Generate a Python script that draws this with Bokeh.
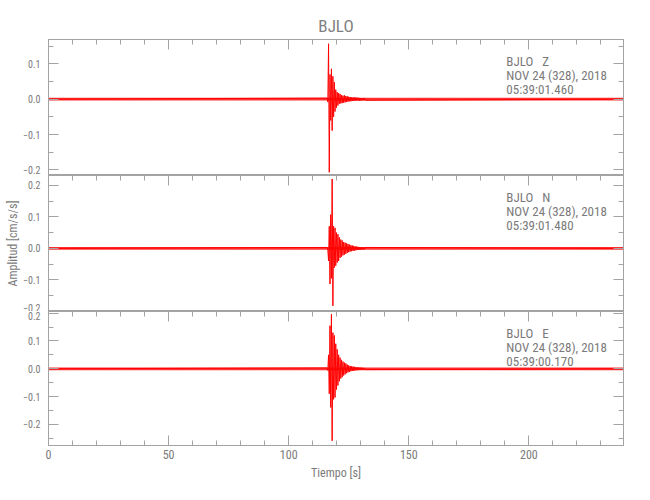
import numpy as np
from bokeh.plotting import figure
from bokeh.layouts import column
from bokeh.models import (Range1d, LinearAxis, FixedTicker, Label, CustomJSTickFormatter,
                          CustomLabelingPolicy)
from bokeh.embed import file_html
from bokeh.resources import INLINE

# ---------------- data ----------------
station = "BJLO"
components = ["Z", "N", "E"]
event_date = "NOV 24 (328), 2018"
start_times = ["05:39:01.460", "05:39:01.480", "05:39:00.170"]
y_title = "Amplitud [cm/s/s]"
x_title = "Tiempo [s]"
record_end = 239.4
x_major = [0, 50, 100, 150, 200]
x_minor = [0, 10, 20, 30, 40, 50, 60, 70, 80, 90, 100, 110, 120, 130, 140, 150,
           160, 170, 180, 190, 200, 210, 220, 230]
y_major = [-0.2, -0.1, 0.0, 0.1, 0.2]
y_minor = [-0.25, -0.2, -0.15, -0.1, -0.05, 0.0, 0.05, 0.1, 0.15, 0.2, 0.25]
y_limits = [(-0.216, 0.169), (-0.2, 0.231), (-0.276, 0.206)]
noise_halfwidth = [0.004, 0.0045, 0.005]

event_t0 = 116.0
event_dt = 0.3
amp_z = [0.003, -0.008, 0.157, -0.207, 0.070, -0.060, 0.086, -0.089, 0.065, -0.050,
         0.048, -0.035, 0.027, -0.024, 0.020, -0.018, 0.017, -0.013, 0.015, -0.012,
         0.012, -0.011, 0.010, -0.010, 0.011, -0.009, 0.009, -0.008, 0.008, -0.007,
         0.007, -0.006, 0.006, -0.006, 0.005, -0.005, 0.005, -0.005, 0.005, -0.004,
         0.005, -0.004, 0.004, -0.004, 0.004, -0.004, 0.003, -0.004, 0.003, -0.003,
         0.003, -0.003, 0.003, -0.003]
amp_n = [0.003, -0.005, -0.040, 0.070, -0.113, 0.107, -0.095, 0.220, -0.182, 0.070,
         -0.061, 0.065, -0.055, 0.050, -0.045, 0.045, -0.040, 0.035, -0.030, 0.028,
         -0.026, 0.025, -0.022, 0.020, -0.020, 0.018, -0.017, 0.016, -0.014, 0.014,
         -0.012, 0.012, -0.010, 0.010, -0.009, 0.009, -0.008, 0.008, -0.007, 0.006,
         -0.006, 0.006, -0.005, 0.005, -0.005, 0.004, -0.004, 0.004, -0.004, 0.004,
         -0.003, 0.003, -0.003, 0.003]
amp_e = [0.003, -0.006, 0.050, -0.090, 0.155, -0.139, 0.196, -0.259, 0.130, -0.110,
         0.120, -0.103, 0.090, -0.075, 0.070, -0.060, 0.050, -0.045, 0.040, -0.035,
         0.032, -0.030, 0.026, -0.024, 0.022, -0.020, 0.019, -0.016, 0.015, -0.013,
         0.012, -0.011, 0.010, -0.009, 0.009, -0.008, 0.008, -0.007, 0.007, -0.006,
         0.006, -0.005, 0.005, -0.005, 0.005, -0.004, 0.004, -0.004, 0.004, -0.004,
         0.003, -0.003, 0.003, -0.003]
amplitudes = [amp_z, amp_n, amp_e]

# ---------------- style ----------------
FONT = "'Liberation Sans Narrow', 'Roboto Condensed', Roboto, sans-serif"
AX = "#a3a3a3"
TX = "#7a7a7a"
RED = "#ff0000"
NB = "\u00a0"
W = 642
FW = 575
LEFT = 48
RIGHT = W - LEFT - FW
FRAME_H = [136, 136, 134]
TOP_B = [39, 0, 0]
BOT_B = [0, 0, 44]

x_range = Range1d(0, record_end)
minus_fmt = "return tick.toFixed(1).replace('-', '\\u2212');"
hide_code = "for (const i of Array.from(indices)) { indices.unset(i) }\nreturn indices"


def style_axis(ax, labels):
    ax.axis_line_color = AX
    ax.major_tick_line_color = AX
    ax.minor_tick_line_color = AX
    ax.major_tick_in = 10
    ax.major_tick_out = 0
    ax.minor_tick_in = 5
    ax.minor_tick_out = 0
    ax.major_label_text_color = TX
    ax.major_label_text_font = FONT
    if not labels:
        ax.major_label_text_font_size = "0px"
        ax.major_label_standoff = 0
        ax.major_label_policy = CustomLabelingPolicy(code=hide_code)


panels = []
for i in range(3):
    ys, ye = y_limits[i]
    p = figure(width=W, height=TOP_B[i] + FRAME_H[i] + BOT_B[i],
               frame_width=FW, frame_height=FRAME_H[i],
               x_range=x_range, y_range=Range1d(ys, ye),
               output_backend="svg", toolbar_location=None,
               x_axis_location=None, y_axis_location=None,
               min_border_left=LEFT, min_border_right=RIGHT,
               min_border_top=TOP_B[i], min_border_bottom=BOT_B[i])
    p.grid.visible = False
    p.outline_line_color = AX
    p.background_fill_color = "white"
    p.border_fill_color = "white"

    # axes
    yt = FixedTicker(ticks=y_major, minor_ticks=y_minor)
    xt = FixedTicker(ticks=x_major, minor_ticks=x_minor)
    left = LinearAxis(ticker=yt, formatter=CustomJSTickFormatter(code=minus_fmt))
    style_axis(left, True)
    left.major_label_text_font_size = "10px"
    left.major_label_standoff = 8
    if i == 1:
        left.axis_label = y_title
        left.axis_label_text_font = FONT
        left.axis_label_text_font_size = "12px"
        left.axis_label_text_font_style = "normal"
        left.axis_label_text_color = TX
        left.axis_label_standoff = 0
    p.add_layout(left, "left")
    right = LinearAxis(ticker=yt)
    style_axis(right, False)
    p.add_layout(right, "right")
    top = LinearAxis(ticker=xt)
    style_axis(top, False)
    p.add_layout(top, "above")
    if i == 2:
        bottom = LinearAxis(ticker=xt, axis_label=x_title)
        style_axis(bottom, True)
        bottom.major_label_text_font_size = "12px"
        bottom.major_label_standoff = 4
        bottom.axis_label_text_font = FONT
        bottom.axis_label_text_font_size = "12px"
        bottom.axis_label_text_font_style = "normal"
        bottom.axis_label_text_color = TX
        bottom.axis_label_standoff = 4
        p.add_layout(bottom, "below")

    # trace
    amps = amplitudes[i]
    t_event = event_t0 + event_dt * np.arange(len(amps))
    t = np.concatenate([[0.0], t_event, [record_end]])
    y = np.concatenate([[0.0], amps, [0.0]])
    nh = noise_halfwidth[i]
    p.varea(x=[0.0, record_end], y1=[-nh, -nh], y2=[nh, nh], fill_color=RED, fill_alpha=0.8)
    p.line(t, y, line_color=RED, line_width=1)

    # header text
    span = ye - ys
    fh = FRAME_H[i]
    lines = [f"{station}{NB*3}{components[i]}", event_date, start_times[i]]
    for k, txt in enumerate(lines):
        p.add_layout(Label(x=190.6, y=ye - (14.5 + 14.0 * k) / fh * span, text=txt,
                           text_baseline="top", text_align="left",
                           text_font=FONT, text_font_size="13px", text_color=TX))

    if i == 0:
        p.title.text = station
        p.title.align = "center"
        p.title.text_font = FONT
        p.title.text_font_size = "17px"
        p.title.text_font_style = "normal"
        p.title.text_color = "#808080"
        p.title.standoff = 7
    panels.append(p)

layout = column(*panels, spacing=0)
open("out.html", "w").write(file_html(layout, INLINE))
